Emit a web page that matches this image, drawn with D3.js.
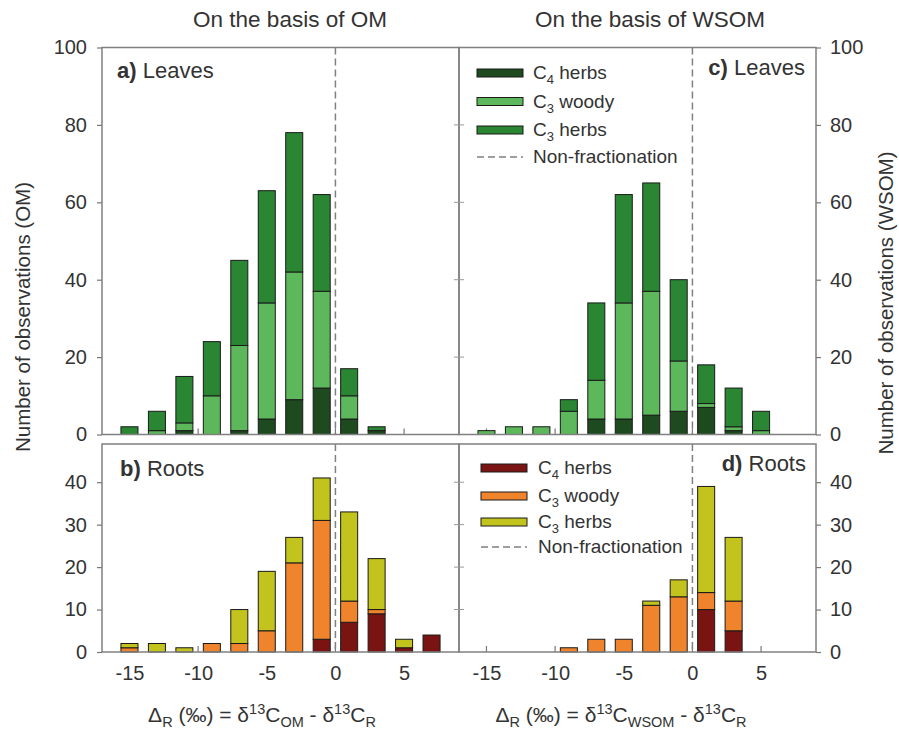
<!DOCTYPE html>
<html>
<head>
<meta charset="utf-8">
<script src="https://cdn.jsdelivr.net/npm/d3@7"></script>
<style>
  body { margin: 0; background: #fff; }
  text { font-family: "Liberation Sans", Arial, sans-serif; fill: #333; }
</style>
</head>
<body>
<script>
// bin centres (per mil)
var bins = [-15, -13, -11, -9, -7, -5, -3, -1, 1, 3, 5, 7];

// a) leaves, OM basis
var omLeafC4 =    [0, 0, 1, 0, 1, 4, 9, 12, 4, 1, 0, 0];
var omLeafWoody = [0, 1, 2, 10, 22, 30, 33, 25, 6, 0, 0, 0];
var omLeafHerbs = [2, 5, 12, 14, 22, 29, 36, 25, 7, 1, 0, 0];

// b) roots, OM basis
var omRootC4 =    [0, 0, 0, 0, 0, 0, 0, 3, 7, 9, 1, 4];
var omRootWoody = [1, 0, 0, 2, 2, 5, 21, 28, 5, 1, 0, 0];
var omRootHerbs = [1, 2, 1, 0, 8, 14, 6, 10, 21, 12, 2, 0];

// c) leaves, WSOM basis
var wsLeafC4 =    [0, 0, 0, 0, 4, 4, 5, 6, 7, 1, 0, 0];
var wsLeafWoody = [1, 2, 2, 6, 10, 30, 32, 13, 1, 1, 1, 0];
var wsLeafHerbs = [0, 0, 0, 3, 20, 28, 28, 21, 10, 10, 5, 0];

// d) roots, WSOM basis
var wsRootC4 =    [0, 0, 0, 0, 0, 0, 0, 0, 10, 5, 0, 0];
var wsRootWoody = [0, 0, 0, 1, 3, 3, 11, 13, 4, 7, 0, 0];
var wsRootHerbs = [0, 0, 0, 0, 0, 0, 1, 4, 25, 15, 0, 0];

var xTicks = [-15, -10, -5, 0, 5];
var leafTicks = [0, 20, 40, 60, 80, 100];
var rootTicks = [0, 10, 20, 30, 40];

var leafColors = ["#1d4a1f", "#5cb85a", "#2a8632"];
var rootColors = ["#7a1412", "#f0842c", "#c3c31e"];
var keys = ["c4", "woody", "herbs"];

var svg = d3.select("body").append("svg").attr("width", 899).attr("height", 735);

var x0 = d3.scaleLinear().domain([-17, 9]).range([102, 459]);
var x1 = d3.scaleLinear().domain([-17, 9]).range([459, 816]);
var yTop = d3.scaleLinear().domain([0, 100]).range([434.5, 47.5]);
var yBot = d3.scaleLinear().domain([0, 49]).range([652, 444]);

var barW = x0(1.24) - x0(0);

function panel(x, y, c4, woody, herbs, colors) {
  var rows = bins.map(function(b, i) {
    return {bin: b, c4: c4[i], woody: woody[i], herbs: herbs[i]};
  });
  var series = d3.stack().keys(keys)(rows);
  var g = svg.append("g");

  // inside ticks on bottom
  g.append("g").selectAll("line").data(xTicks).join("line")
    .attr("x1", function(d){return x(d);}).attr("x2", function(d){return x(d);})
    .attr("y1", y.range()[0]).attr("y2", y.range()[0] - 6)
    .attr("stroke", "#777").attr("stroke-width", 1.2);

  series.forEach(function(s, k) {
    g.append("g").selectAll("rect")
      .data(s.filter(function(d){return d[1] > d[0];}))
      .join("rect")
      .attr("x", function(d){return x(d.data.bin) - barW / 2;})
      .attr("y", function(d){return y(d[1]);})
      .attr("width", barW)
      .attr("height", function(d){return y(d[0]) - y(d[1]);})
      .attr("fill", colors[k])
      .attr("stroke", "#1a1a1a")
      .attr("stroke-width", 1);
  });

  // non-fractionation line
  g.append("line")
    .attr("x1", x(0)).attr("x2", x(0))
    .attr("y1", y.range()[1]).attr("y2", y.range()[0])
    .attr("stroke", "#808080").attr("stroke-width", 1.5)
    .attr("stroke-dasharray", "7,4");

  g.append("rect")
    .attr("x", x.range()[0]).attr("y", y.range()[1])
    .attr("width", x.range()[1] - x.range()[0])
    .attr("height", y.range()[0] - y.range()[1])
    .attr("fill", "none").attr("stroke", "#808080").attr("stroke-width", 1.5);
  return g;
}

panel(x0, yTop, omLeafC4, omLeafWoody, omLeafHerbs, leafColors);
panel(x0, yBot, omRootC4, omRootWoody, omRootHerbs, rootColors);
panel(x1, yTop, wsLeafC4, wsLeafWoody, wsLeafHerbs, leafColors);
panel(x1, yBot, wsRootC4, wsRootWoody, wsRootHerbs, rootColors);

// y axes
function styleAxis(sel) {
  sel.select(".domain").remove();
  sel.selectAll(".tick line").attr("stroke", "#777").attr("stroke-width", 1.2);
  sel.selectAll(".tick text").style("font-size", "20px").attr("fill", "#333");
}
var plain = function(d){ return String(d); };
svg.append("g").attr("transform", "translate(102,0)")
  .call(d3.axisLeft(yTop).tickValues(leafTicks).tickFormat(plain).tickSize(5).tickPadding(10)).call(styleAxis);
svg.append("g").attr("transform", "translate(102,0)")
  .call(d3.axisLeft(yBot).tickValues(rootTicks).tickFormat(plain).tickSize(5).tickPadding(10)).call(styleAxis);
svg.append("g").attr("transform", "translate(816,0)")
  .call(d3.axisRight(yTop).tickValues(leafTicks).tickFormat(plain).tickSize(5).tickPadding(9)).call(styleAxis);
svg.append("g").attr("transform", "translate(816,0)")
  .call(d3.axisRight(yBot).tickValues(rootTicks).tickFormat(plain).tickSize(5).tickPadding(9)).call(styleAxis);

// x axes (labels only, ticks drawn inside)
svg.append("g").attr("transform", "translate(0,652)")
  .call(d3.axisBottom(x0).tickValues(xTicks).tickFormat(plain).tickSize(0).tickPadding(14)).call(styleAxis);
svg.append("g").attr("transform", "translate(0,652)")
  .call(d3.axisBottom(x1).tickValues(xTicks).tickFormat(plain).tickSize(0).tickPadding(14)).call(styleAxis);

// shared-border mirror ticks
[yTop, yBot].forEach(function(y) {
  var t = y === yTop ? leafTicks.slice(1, 5) : rootTicks.slice(1);
  svg.append("g").selectAll("line").data(t).join("line")
    .attr("x1", 454).attr("x2", 464)
    .attr("y1", function(d){return y(d);}).attr("y2", function(d){return y(d);})
    .attr("stroke", "#999").attr("stroke-width", 1);
});

// column titles
svg.append("text").attr("x", 290).attr("y", 27).attr("text-anchor", "middle")
  .style("font-size", "22.5px").text("On the basis of OM");
svg.append("text").attr("x", 650).attr("y", 27).attr("text-anchor", "middle")
  .style("font-size", "22.5px").text("On the basis of WSOM");

// panel labels
function panelLabel(px, py, letter, word, anchor) {
  var t = svg.append("text").attr("x", px).attr("y", py).attr("text-anchor", anchor)
    .style("font-size", "22px");
  t.append("tspan").style("font-weight", "bold").text(letter + " ");
  t.append("tspan").text(word);
}
panelLabel(117, 78, "a)", "Leaves", "start");
panelLabel(120, 476, "b)", "Roots", "start");
panelLabel(805, 75, "c)", "Leaves", "end");
panelLabel(806, 471, "d)", "Roots", "end");

// y titles
svg.append("text").attr("transform", "translate(30,317) rotate(-90)")
  .attr("text-anchor", "middle").style("font-size", "20.5px")
  .text("Number of observations (OM)");
svg.append("text").attr("transform", "translate(893,303) rotate(-90)")
  .attr("text-anchor", "middle").style("font-size", "20.5px")
  .text("Number of observations (WSOM)");

// x titles
function xTitle(cx, sub) {
  var t = svg.append("text").attr("x", cx).attr("y", 722).attr("text-anchor", "middle")
    .style("font-size", "21px");
  t.append("tspan").text("\u0394");
  t.append("tspan").attr("dy", 5).style("font-size", "14.5px").text("R");
  t.append("tspan").attr("dy", -5).text(" (\u2030) = \u03b4");
  t.append("tspan").attr("dy", -8).style("font-size", "14.5px").text("13");
  t.append("tspan").attr("dy", 8).text("C");
  t.append("tspan").attr("dy", 5).style("font-size", "14.5px").text(sub);
  t.append("tspan").attr("dy", -5).text(" - \u03b4");
  t.append("tspan").attr("dy", -8).style("font-size", "14.5px").text("13");
  t.append("tspan").attr("dy", 8).text("C");
  t.append("tspan").attr("dy", 5).style("font-size", "14.5px").text("R");
}
xTitle(262, "OM");
xTitle(621, "WSOM");

// legends
var legendNames = [["4", " herbs"], ["3", " woody"], ["3", " herbs"]];
function legend(sx, tx, rowsY, colors) {
  var g = svg.append("g");
  legendNames.forEach(function(n, i) {
    g.append("rect").attr("x", sx).attr("y", rowsY[i] - 4).attr("width", 46).attr("height", 8)
      .attr("fill", colors[i]).attr("stroke", "#1a1a1a").attr("stroke-width", 1);
    var t = g.append("text").attr("x", tx).attr("y", rowsY[i] + 6).style("font-size", "19px");
    t.append("tspan").text("C");
    t.append("tspan").attr("dy", 5).style("font-size", "13px").text(n[0]);
    t.append("tspan").attr("dy", -5).text(n[1]);
  });
  g.append("line").attr("x1", sx).attr("x2", sx + 46)
    .attr("y1", rowsY[3]).attr("y2", rowsY[3])
    .attr("stroke", "#808080").attr("stroke-width", 1.5).attr("stroke-dasharray", "7,4");
  g.append("text").attr("x", tx).attr("y", rowsY[3] + 6).style("font-size", "19px")
    .text("Non-fractionation");
}
legend(477, 533, [73, 101.5, 130, 157], leafColors);
legend(481, 538, [468, 496, 522, 547], rootColors);
</script>
</body>
</html>
